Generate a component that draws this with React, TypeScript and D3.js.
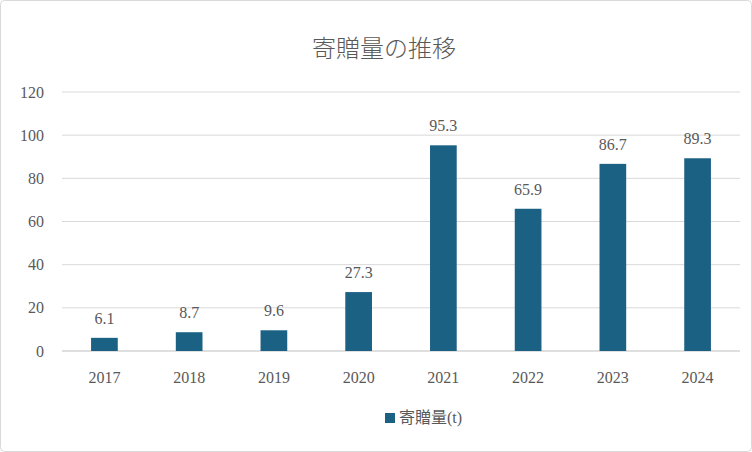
import React from "react";
import * as d3 from "d3";

const years = ["2017", "2018", "2019", "2020", "2021", "2022", "2023", "2024"];
const amounts = [6.1, 8.7, 9.6, 27.3, 95.3, 65.9, 86.7, 89.3];
const yTicks = [0, 20, 40, 60, 80, 100, 120];

const W = 752;
const H = 452;
const margin = { top: 92, right: 12, bottom: 101, left: 62 };
const textColor = "#595959";
const barColor = "#1b6184";
const font = "'Liberation Serif', 'Noto Sans CJK JP', serif";

export default function App() {
  const x = d3
    .scaleBand()
    .domain(years)
    .range([margin.left, W - margin.right])
    .paddingInner(0.685)
    .paddingOuter(0.343);
  const y = d3.scaleLinear().domain([0, 120]).range([H - margin.bottom, margin.top]);

  return (
    <svg
      width={W}
      height={H}
      style={{ position: "absolute", left: 0, top: 0, background: "#fff" }}
    >
      <rect x={0.5} y={0.5} width={W - 1} height={H - 1} fill="#fff" stroke="#d9d9d9" rx={4} />
      <text
        x={W / 2 + 8}
        y={57}
        textAnchor="middle"
        fontSize={24}
        fill={textColor}
        fontFamily="'Noto Sans CJK JP', sans-serif"
        fontWeight={300}
      >
        寄贈量の推移
      </text>
      {yTicks.map((t) => (
        <g key={t}>
          <line
            x1={margin.left}
            x2={W - margin.right}
            y1={y(t)}
            y2={y(t)}
            stroke={t === 0 ? "#bfbfbf" : "#d9d9d9"}
          />
          <text
            x={margin.left - 18}
            y={y(t)}
            dy="0.35em"
            textAnchor="end"
            fontSize={16}
            fill={textColor}
            fontFamily={font}
          >
            {t}
          </text>
        </g>
      ))}
      {years.map((yr, i) => (
        <g key={yr}>
          <rect
            x={x(yr)}
            y={y(amounts[i])}
            width={x.bandwidth()}
            height={y(0) - y(amounts[i])}
            fill={barColor}
          />
          <text
            x={(x(yr) ?? 0) + x.bandwidth() / 2}
            y={y(amounts[i]) - 14}
            textAnchor="middle"
            fontSize={16}
            fill={textColor}
            fontFamily={font}
          >
            {amounts[i].toFixed(1)}
          </text>
          <text
            x={(x(yr) ?? 0) + x.bandwidth() / 2}
            y={y(0) + 32}
            textAnchor="middle"
            fontSize={16}
            fill={textColor}
            fontFamily={font}
          >
            {yr}
          </text>
        </g>
      ))}
      <rect x={385} y={413} width={10} height={10} fill={barColor} />
      <text x={399} y={423} fontSize={16} fill={textColor} fontFamily={font}>
        寄贈量(t)
      </text>
    </svg>
  );
}
